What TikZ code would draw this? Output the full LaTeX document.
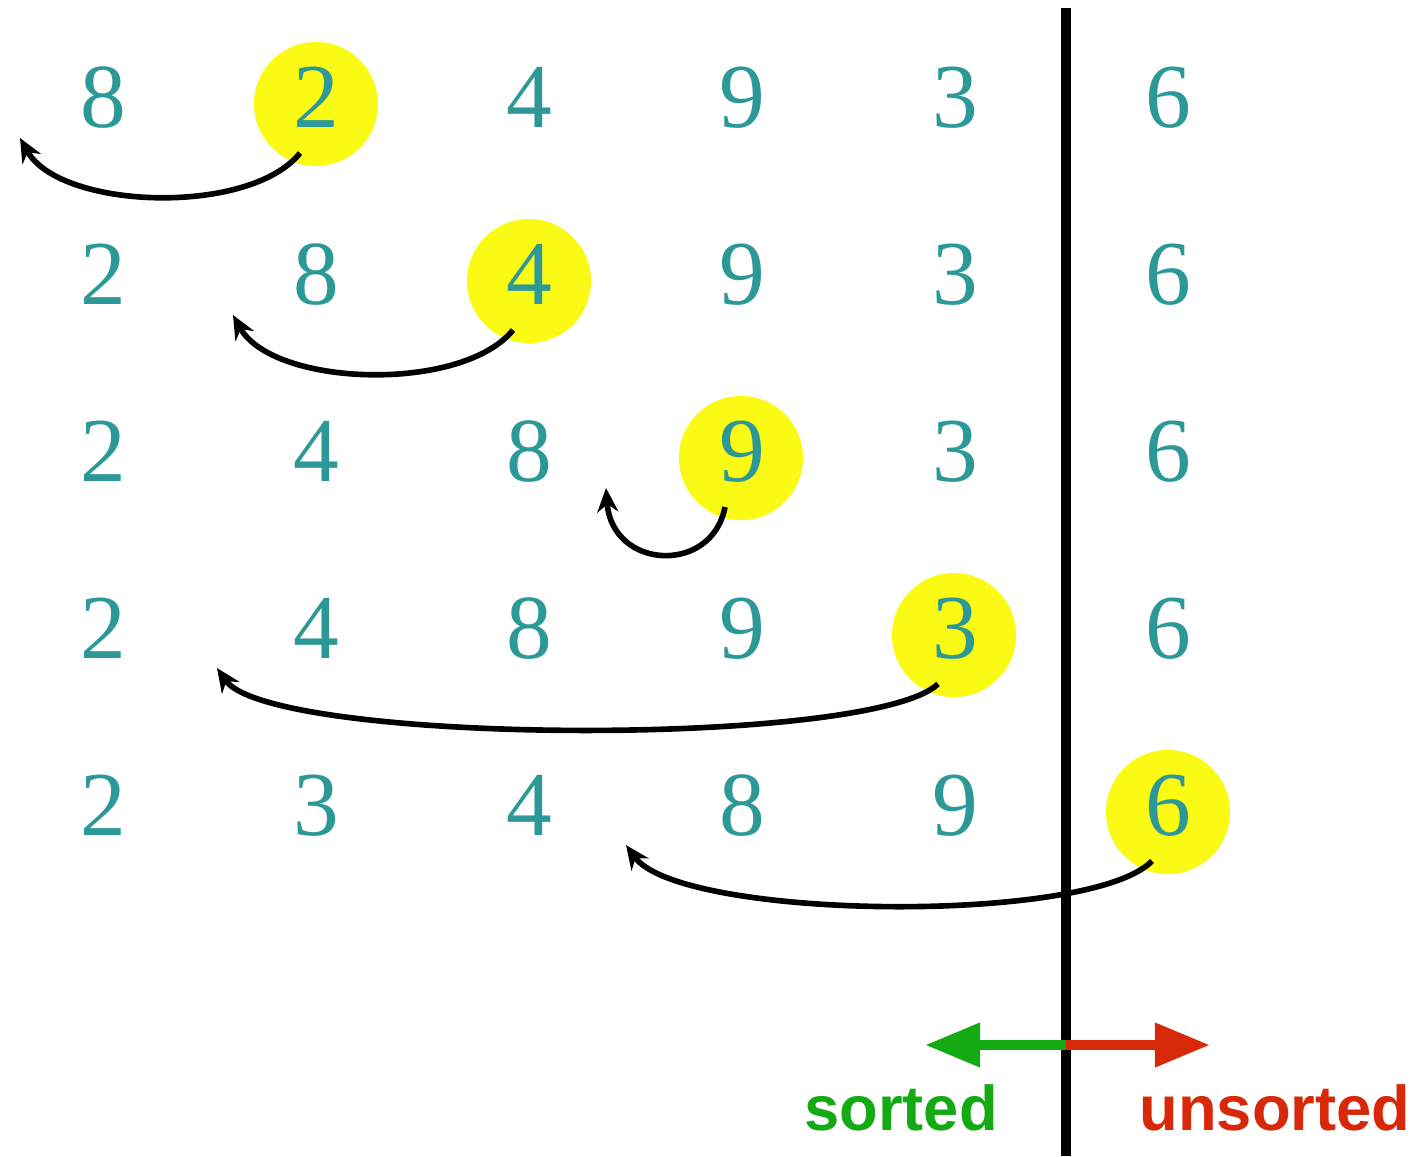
\documentclass[tikz,border=0pt]{standalone}
\usepackage{fontspec}
\setmainfont{Liberation Serif}
\newfontfamily\labelfont{Liberation Sans}
\usetikzlibrary{arrows.meta,calc}
\definecolor{digitteal}{RGB}{45,152,152}
\definecolor{hlyellow}{RGB}{250,250,20}
\definecolor{sortgreen}{RGB}{20,170,20}
\definecolor{unsortred}{RGB}{215,40,10}
\tikzset{
  num/.style    ={anchor=base, inner sep=0pt, text=digitteal,
                  font=\fontsize{26}{26}\selectfont},
  hl/.style     ={circle, fill=hlyellow, minimum size=1.24cm, inner sep=0pt},
  move/.style   ={-{Stealth[length=2.4mm,width=2.1mm]}, line width=1.6pt, draw=black},
  divider/.style={line width=2.9pt, draw=black},
  side/.style   ={line width=2.9pt, -{Triangle[length=5.5mm,width=4.2mm]}},
  sidelbl/.style={anchor=base, inner sep=0pt,
                  font=\labelfont\bfseries\fontsize{18}{18}\selectfont}
}
\begin{document}
\begin{tikzpicture}[x=0.01cm, y=-0.01cm]
\useasboundingbox (0,0) rectangle (1420,1156);
% Highlighted key of each pass
\foreach \c/\x/\y in {1/316/104, 2/529/281, 3/741/458, 4/954/635, 5/1168/812}
  \node[hl] (h\c) at (\x,\y) {};
% Rows of the array
\foreach \r/\y/\list in {1/127/{8,2,4,9,3,6}, 2/304/{2,8,4,9,3,6}, 3/481/{2,4,8,9,3,6},
                         4/658/{2,4,8,9,3,6}, 5/835/{2,3,4,8,9,6}}{
  \foreach \d [count=\c] in \list
    \node[num] (d\r\c) at ({103+213*(\c-1)},\y) {\d};
}
% Insertion moves
\foreach \c/\ex/\ey/\ax/\ay/\bx/\by in {1/20/138/-50/63/40/72, 2/233/315/-51/63/40/72,
                                       3/606/488/-13/68/6/82, 4/217/668/-68/64/53/77,
                                       5/626/845/-62/64/54/75}{
  \coordinate (ins\c) at (\ex,\ey);
  \draw[move] ([shift={(-16,49)}]h\c.center) .. controls +(\ax,\ay) and +(\bx,\by) .. (ins\c);
}
% Divider
\coordinate (divtop) at (1066,8);
\coordinate (divbot) at (1066,1156);
\coordinate (split) at (1066,1045);
\coordinate (sortend) at (925,1045);
\coordinate (unsortend) at (1210,1045);
\draw[divider] (divtop) -- (divbot);
\draw[side, sortgreen] (split) -- (sortend);
\draw[side, unsortred] (split) -- (unsortend);
\node[sidelbl, text=sortgreen] (sortlbl) at (901,1130) {sorted};
\node[sidelbl, text=unsortred] (unsortlbl) at (1275,1130) {unsorted};
\end{tikzpicture}
\end{document}
